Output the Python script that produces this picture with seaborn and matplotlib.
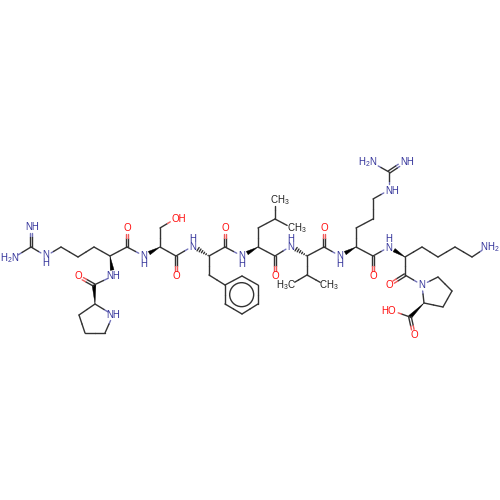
import numpy as np
import pandas as pd
import matplotlib
matplotlib.use("Agg")
import matplotlib.pyplot as plt
import seaborn as sns

# atoms
atom_id = ["P1N","P1d","P1g","P1b","P1a","P1C","P1O",
 "R1N","R1a","R1C","R1O","R1b","R1g","R1d","R1e","R1z","R1h1","R1h2",
 "SN","Sa","Sb","SO","SC","SO2",
 "FN","Fa","FC","FO","Fb","F1","F2","F3","F4","F5","F6",
 "LN","La","Lb","Lg","Ld1","Ld2","LC","LO",
 "VN","Va","VC","VO","Vb","Vg1","Vg2",
 "R2N","R2a","R2C","R2O","R2b","R2g","R2d","R2e","R2z","R2h1","R2h2",
 "KN","Ka","KC","KO","Kb","Kg","Kd","Ke","KNz",
 "P2N","P2d","P2g","P2b","P2a","P2C","P2O","P2OH"]
atom_x = [113,105,85,79,95,94,78,
 113,110,127,127,94,78,61,46,31,31,13,
 144,160,160,175,176,176,
 193,209,225,225,209,225,242,258,258,242,225,
 242,258,258,275,275,292,275,275,
 291,307,324,324,307,290,325,
 340,356,373,373,356,373,373,389,389,373,404,
 389,405,405,389,422,438,455,472,487,
 422,438,452,443,424,410,414,393]
atom_y = [315,333,333,315,304,285,276,
 276,256,247,228,247,257,247,256,247,227,258,
 256,247,228,219,256,276,
 246,256,247,228,275,285,276,285,304,314,304,
 256,247,228,219,200,228,256,276,
 246,256,247,228,275,285,285,
 256,247,256,276,228,219,199,190,172,163,162,
 247,257,275,285,247,257,247,257,247,
 285,277,291,307,303,317,335,311]
atom_elem = {"N": ["P1N","R1N","R1e","R1h1","R1h2","SN","FN","LN","VN","R2N","R2e","R2h1","R2h2","KN","KNz","P2N"],
             "O": ["P1O","R1O","SO","SO2","FO","LO","VO","R2O","KO","P2O","P2OH"]}
methyl_atoms = ["Ld1","Ld2","Vg1","Vg2"]

# bonds
single_bonds = [("P1N","P1d"),("P1d","P1g"),("P1g","P1b"),("P1b","P1a"),("P1a","P1N"),
 ("P1C","R1N"),("R1a","R1C"),("R1a","R1b"),("R1b","R1g"),("R1g","R1d"),("R1d","R1e"),("R1e","R1z"),("R1z","R1h2"),
 ("R1C","SN"),("Sa","Sb"),("Sb","SO"),("Sa","SC"),("SC","FN"),
 ("Fa","FC"),("Fa","Fb"),("Fb","F1"),("FC","LN"),
 ("F1","F2"),("F2","F3"),("F3","F4"),("F4","F5"),("F5","F6"),("F6","F1"),
 ("La","Lb"),("Lb","Lg"),("Lg","Ld1"),("Lg","Ld2"),("La","LC"),("LC","VN"),
 ("Va","VC"),("Va","Vb"),("Vb","Vg1"),("Vb","Vg2"),("VC","R2N"),
 ("R2a","R2C"),("R2a","R2b"),("R2b","R2g"),("R2g","R2d"),("R2d","R2e"),("R2e","R2z"),("R2z","R2h1"),
 ("R2C","KN"),("Ka","KC"),("Ka","Kb"),("Kb","Kg"),("Kg","Kd"),("Kd","Ke"),("Ke","KNz"),
 ("KC","P2N"),("P2N","P2d"),("P2d","P2g"),("P2g","P2b"),("P2b","P2a"),("P2a","P2N"),("P2C","P2OH")]
double_bonds = [("P1C","P1O"),("R1z","R1h1"),("R1C","R1O"),("SC","SO2"),("FC","FO"),("LC","LO"),("VC","VO"),
 ("R2C","R2O"),("R2z","R2h2"),("KC","KO"),("P2C","P2O")]
wedge_bonds = [("R1a","R1N"),("P1a","P1C"),("Sa","SN"),("La","LN"),("R2a","R2N"),("Ka","KN"),("P2a","P2C")]
hash_bonds = [("Fa","FN"),("Va","VN")]
ring_atoms = ["F1","F2","F3","F4","F5","F6"]

# atom labels
NV, HV = "N\nH", "H\nN"
label_text = [NV,"NH","H$_2$N","O",NV,"NH","O","NH","OH","O",HV,"O",NV,"O",HV,
 "CH$_3$","CH$_3$","H$_3$C","CH$_3$","O",NV,"O",HV,"O","N","NH$_2$","NH","H$_2$N","NH","HO","O"]
label_x = [46,32,9.5,127,144,113,78,113,179,176,193,225,242,275,291,
 280,296.5,286,328.5,324,340,373,389,389,422,490,392,368,407,389,414]
label_y = [259,227,258,228,260,276,276,315,219,276,243,228,260,276,243,
 200.5,228.5,285.5,285.5,228,260,276,243.5,285,285,247.5,191,162.5,162,311,335]
label_kind = ["N","N","N","O","N","N","O","N","O","O","N","O","N","O","N",
 "C","C","C","C","O","N","O","N","O","N","N","N","N","N","O","O"]

BOND, BLUE, RED = "#333333", "#33339a", "#ff0d0d"
HALF = {"C": BOND, "N": "#7272b8", "O": "#ee5a5a"}
pos = {a: np.array([x, y], float) for a, x, y in zip(atom_id, atom_x, atom_y)}
kind = {a: "C" for a in atom_id}
for el, members in atom_elem.items():
    for a in members:
        kind[a] = el
trim_by = {"C": 0.0, "N": 6.0, "O": 5.5}
for a in methyl_atoms:
    trim_by[a] = 5.5

def trim(a):
    return trim_by.get(a, trim_by[kind[a]])

def ends(a, b):
    p, q = pos[a], pos[b]
    u = (q - p) / np.linalg.norm(q - p)
    return p + u * trim(a), q - u * trim(b), u

rows = []
seg = 0
def add(p, q, c):
    global seg
    rows.append((seg, p[0], p[1], c)); rows.append((seg, q[0], q[1], c)); seg += 1

def add_bond(a, b, off=0.0):
    p, q, u = ends(a, b)
    n = np.array([-u[1], u[0]]) * off
    p, q = p + n, q + n
    m = (pos[a] + pos[b]) / 2 + n
    add(p, m, HALF[kind[a]]); add(m, q, HALF[kind[b]])

for a, b in single_bonds:
    add_bond(a, b)
for a, b in double_bonds:
    add_bond(a, b, 1.3); add_bond(a, b, -1.3)
for a, b in hash_bonds:
    p, q, u = ends(a, b)
    n = np.array([-u[1], u[0]])
    for t in np.linspace(0.08, 1, 6):
        c = p + (q - p) * t
        add(c - n * 2.0 * t, c + n * 2.0 * t, BOND)
df = pd.DataFrame(rows, columns=["seg", "x", "y", "color"])

sns.set_theme(style="white")
plt.rcParams.update({"mathtext.fontset": "custom", "mathtext.rm": "Liberation Sans",
                     "mathtext.default": "rm"})
fig = plt.figure(figsize=(5, 5), dpi=100)
ax = fig.add_axes([0, 0, 1, 1])
sns.lineplot(data=df, x="x", y="y", units="seg", estimator=None, sort=False, hue="color",
             palette={c: c for c in df["color"].unique()}, legend=False, linewidth=1.0, ax=ax)
for a, b in wedge_bonds:
    p, q, u = ends(a, b)
    n = np.array([-u[1], u[0]]) * 1.9
    ax.fill([p[0], q[0] + n[0], q[0] - n[0]], [p[1], q[1] + n[1], q[1] - n[1]], color="black", lw=0.3)
rx = [pos[a][0] for a in ring_atoms]
ry = [pos[a][1] for a in ring_atoms]
ax.add_patch(plt.Circle((np.mean(rx), np.mean(ry)), 12, fill=False, ec=BOND, lw=1.0))

COL = {"N": BLUE, "O": RED, "C": "#222222"}
for s, x, y, k in zip(label_text, label_x, label_y, label_kind):
    ax.text(x, y, s, ha="center", va="center", ma="center", color=COL[k], fontsize=7.0,
            family="Liberation Sans", linespacing=0.8)
ax.set_xlim(0, 500)
ax.set_ylim(500, 0)
ax.axis("off")
fig.savefig("out.png", dpi=100, facecolor="white")
